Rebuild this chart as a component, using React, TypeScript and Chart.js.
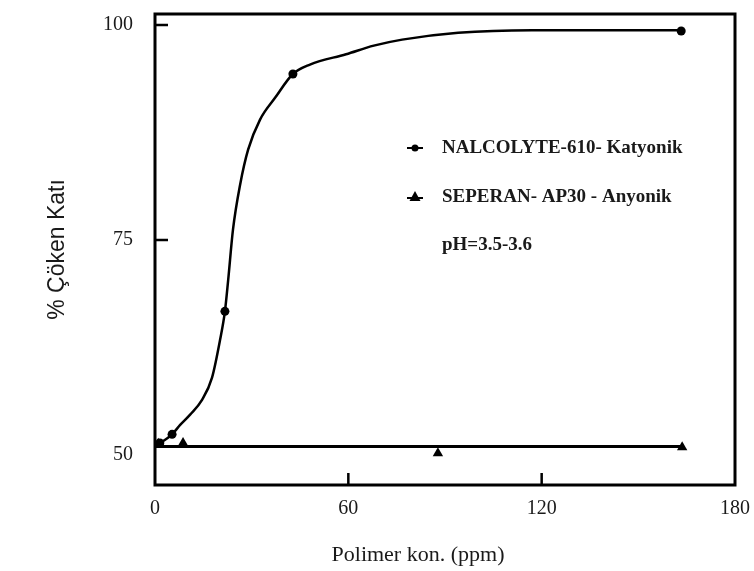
import { useEffect, useRef } from "react";
import { Chart, registerables } from "chart.js";

Chart.register(...registerables);

// Axis ticks
const xTicks = [0, 60, 120, 180];
const yTicks = [50, 75, 100];

// Measured points: NALCOLYTE-610 (cationic)
const cationicX = [1.5, 5.3, 21.7, 42.8, 163.3];
const cationicY = [51.4, 52.4, 66.7, 94.3, 99.3];

// Measured points: SEPERAN AP30 (anionic)
const anionicX = [1, 8.7, 87.8, 163.6];
const anionicY = [51.3, 51.4, 50.2, 50.9];

// Hand-drawn trend curve through the cationic data
const cationicFitX = [0, 5.3, 7.8, 10.9, 14.6, 17.7, 20.2, 21.7, 22.7, 24.2, 26.4, 28.9, 32.6, 37.2, 42.8, 48.1, 59.3, 67.9, 76.7, 94.1, 117, 163.3];
const cationicFitY = [51.0, 52.4, 53.5, 54.7, 56.4, 59.0, 63.4, 66.7, 70.3, 76.2, 81.4, 85.5, 89.0, 91.5, 94.3, 95.4, 96.6, 97.6, 98.3, 99.1, 99.4, 99.4];

// Flat trend line through the anionic data
const anionicFitX = [0, 163.6];
const anionicFitY = [51.0, 51.0];

const legendLabels = ["NALCOLYTE-610- Katyonik", "SEPERAN- AP30 - Anyonik"];
const noteText = "pH=3.5-3.6";
const xTitle = "Polimer kon. (ppm)";
const yTitle = "% Çöken Katı";

const SERIF = '"Liberation Serif", "Times New Roman", serif';
const SANS = '"Liberation Sans", Arial, sans-serif';
const INK = "#1a1a1a";

const zip = (xs: number[], ys: number[]) => xs.map((x, i) => ({ x, y: ys[i] }));

// Closed frame around the plot plus short inward tick marks
const framePlugin = {
  id: "frame",
  afterDatasetsDraw(chart: any) {
    const { ctx, chartArea: a, scales } = chart;
    ctx.save();
    ctx.strokeStyle = "#000";
    ctx.lineWidth = 2.5;
    ctx.lineCap = "butt";
    ctx.beginPath();
    for (const t of scales.x.ticks) {
      if (t.value <= scales.x.min || t.value >= scales.x.max) continue;
      const px = scales.x.getPixelForValue(t.value);
      ctx.moveTo(px, a.bottom);
      ctx.lineTo(px, a.bottom - 12);
    }
    for (const t of scales.y.ticks) {
      if (t.value === yTicks[0]) continue; // lowest tick sits under the trend line
      const py = scales.y.getPixelForValue(t.value);
      ctx.moveTo(a.left, py);
      ctx.lineTo(a.left + 13, py);
    }
    ctx.stroke();
    ctx.lineWidth = 3;
    ctx.strokeRect(a.left, a.top, a.right - a.left, a.bottom - a.top);
    ctx.restore();
  },
};

// Legend block inside the plot and the x-axis title
const notesPlugin = {
  id: "notes",
  afterDraw(chart: any) {
    const { ctx, chartArea: a } = chart;
    ctx.save();
    const mx = a.left + 260;
    const tx = a.left + 287;
    const rows = [a.top + 134, a.top + 183, a.top + 231];

    ctx.strokeStyle = "#000";
    ctx.fillStyle = "#000";
    ctx.lineWidth = 2;
    // circle marker
    ctx.beginPath();
    ctx.moveTo(mx - 8, rows[0]);
    ctx.lineTo(mx + 8, rows[0]);
    ctx.stroke();
    ctx.beginPath();
    ctx.arc(mx, rows[0], 3.5, 0, Math.PI * 2);
    ctx.fill();
    // triangle marker
    ctx.beginPath();
    ctx.moveTo(mx - 8, rows[1] + 1);
    ctx.lineTo(mx + 8, rows[1] + 1);
    ctx.stroke();
    ctx.beginPath();
    ctx.moveTo(mx, rows[1] - 6);
    ctx.lineTo(mx + 5.5, rows[1] + 4);
    ctx.lineTo(mx - 5.5, rows[1] + 4);
    ctx.closePath();
    ctx.fill();

    ctx.fillStyle = INK;
    ctx.font = `bold 19px ${SERIF}`;
    ctx.textAlign = "left";
    ctx.textBaseline = "middle";
    ctx.fillText(legendLabels[0], tx, rows[0]);
    ctx.fillText(legendLabels[1], tx, rows[1]);
    ctx.fillText(noteText, tx, rows[2]);

    ctx.font = `22px ${SERIF}`;
    ctx.textAlign = "center";
    ctx.fillText(xTitle, a.left + 263, a.bottom + 70);
    ctx.restore();
  },
};

export default function App() {
  const ref = useRef<HTMLCanvasElement | null>(null);

  useEffect(() => {
    if (!ref.current) return;
    const chart = new Chart(ref.current, {
      type: "scatter",
      data: {
        datasets: [
          {
            label: "NALCOLYTE-610 trend",
            data: zip(cationicFitX, cationicFitY),
            showLine: true,
            pointRadius: 0,
            borderColor: "#000",
            borderWidth: 2.5,
            cubicInterpolationMode: "monotone",
          } as any,
          {
            label: "SEPERAN AP30 trend",
            data: zip(anionicFitX, anionicFitY),
            showLine: true,
            pointRadius: 0,
            borderColor: "#000",
            borderWidth: 3,
          },
          {
            label: legendLabels[0],
            data: zip(cationicX, cationicY),
            pointStyle: "circle",
            pointRadius: 4.5,
            backgroundColor: "#000",
            borderColor: "#000",
            borderWidth: 0,
          },
          {
            label: legendLabels[1],
            data: zip(anionicX, anionicY),
            pointStyle: "triangle",
            pointRadius: 6,
            backgroundColor: "#000",
            borderColor: "#000",
            borderWidth: 0,
          },
        ],
      },
      options: {
        responsive: false,
        animation: false,
        layout: { padding: { left: 0, top: 14, right: 19, bottom: 0 } },
        plugins: { legend: { display: false }, tooltip: { enabled: false } },
        scales: {
          x: {
            type: "linear",
            min: 0,
            max: 180,
            afterBuildTicks: (s: any) => {
              s.ticks = xTicks.map((v) => ({ value: v }));
            },
            afterFit: (s: any) => {
              s.height = 86;
              s.paddingLeft = 0;
              s.paddingRight = 0;
            },
            grid: { display: false, drawTicks: false },
            border: { display: false },
            ticks: {
              padding: 12,
              color: INK,
              font: { family: SERIF, size: 20 },
              maxRotation: 0,
              autoSkip: false,
            },
          },
          y: {
            type: "linear",
            min: 46.51,
            max: 101.28,
            afterBuildTicks: (s: any) => {
              s.ticks = yTicks.map((v) => ({ value: v }));
            },
            afterFit: (s: any) => {
              s.width = 155;
              s.paddingTop = 0;
              s.paddingBottom = 0;
            },
            grid: { display: false, drawTicks: false },
            border: { display: false },
            ticks: {
              padding: 22,
              color: INK,
              font: { family: SERIF, size: 20 },
              autoSkip: false,
            },
            title: {
              display: true,
              text: yTitle,
              color: INK,
              font: { family: SANS, size: 23 },
              padding: { top: 44, bottom: 0 },
            },
          },
        },
      },
      plugins: [framePlugin, notesPlugin],
    });
    return () => chart.destroy();
  }, []);

  return (
    <div style={{ position: "fixed", left: 0, top: 0, width: 754, height: 571, background: "#fff" }}>
      <canvas ref={ref} width={754} height={571} style={{ display: "block" }} />
    </div>
  );
}
